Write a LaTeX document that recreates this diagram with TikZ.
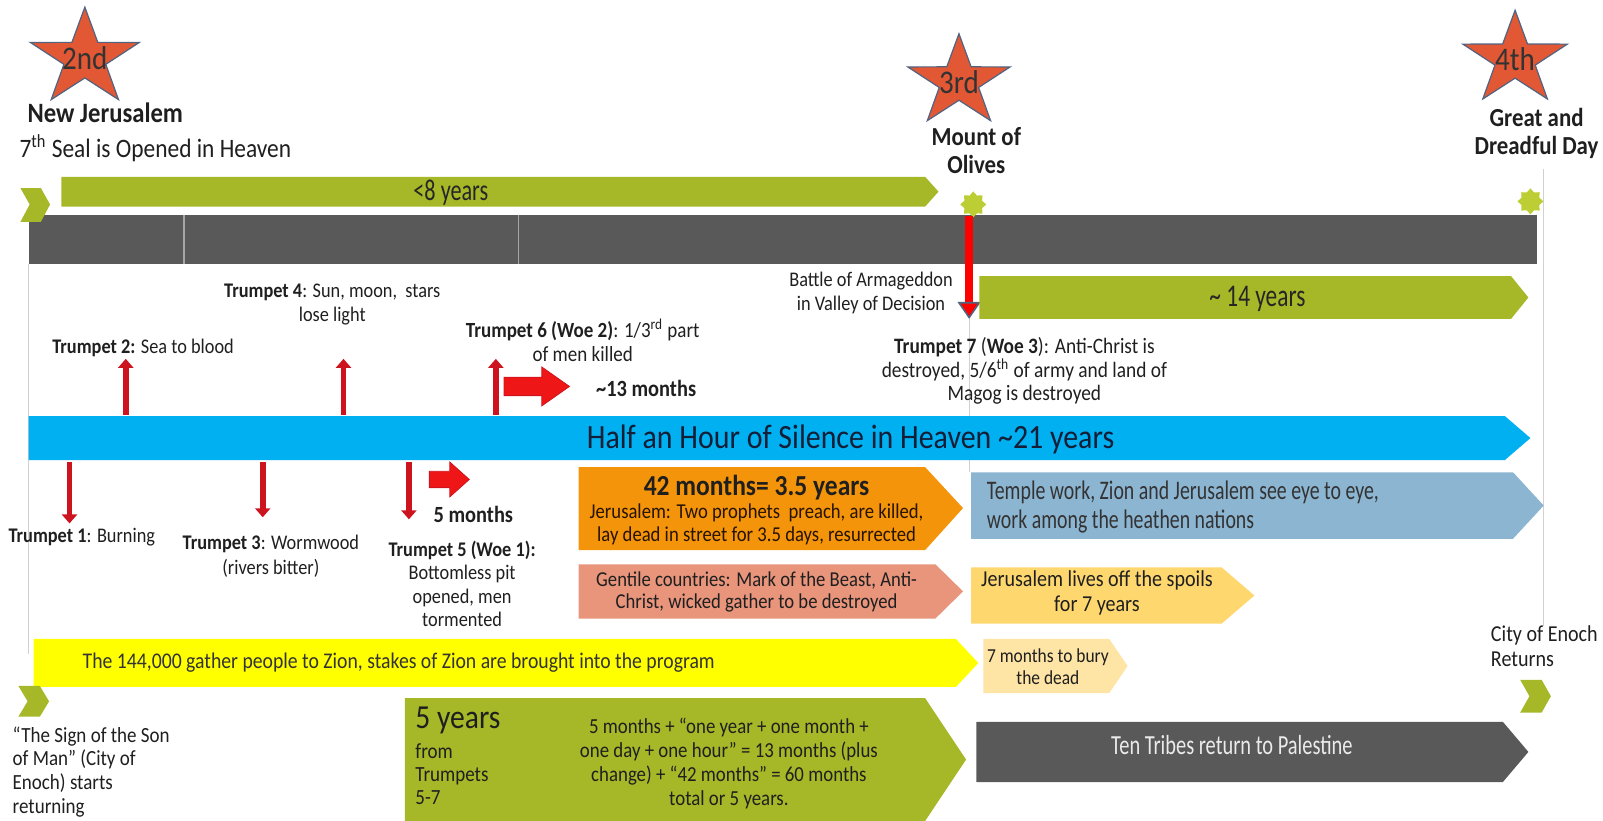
\documentclass[tikz,border=0pt]{standalone}
\usepackage{fontspec}
\setmainfont{Carlito}[FakeStretch=0.88]
\newfontfamily\condfont{Carlito}[FakeStretch=0.74]
\usetikzlibrary{shapes.geometric,arrows.meta}

\definecolor{olivebar}{RGB}{166,184,40}
\definecolor{darkbar}{RGB}{89,89,89}
\definecolor{skybar}{RGB}{0,176,240}
\definecolor{orangebox}{RGB}{244,148,10}
\definecolor{salmonbox}{RGB}{232,149,124}
\definecolor{steelbox}{RGB}{140,181,210}
\definecolor{goldbox}{RGB}{254,216,110}
\definecolor{palebox}{RGB}{254,228,165}
\definecolor{lemonbar}{RGB}{255,255,0}
\definecolor{starred}{RGB}{226,88,52}
\definecolor{starline}{RGB}{80,100,130}
\definecolor{burstgreen}{RGB}{188,206,52}
\definecolor{trumpred}{RGB}{205,20,30}
\definecolor{blockred}{RGB}{238,22,22}
\definecolor{navytext}{RGB}{20,30,55}

\begin{document}
\begin{tikzpicture}[x=0.5111pt, y=-0.5111pt,
  lbl/.style={align=center, inner sep=0pt, text=black!88, font=\fontsize{10.4}{12}\selectfont},
  boldlbl/.style={lbl, font=\fontsize{13}{14}\selectfont\bfseries},
  bartext/.style={inner sep=0pt, text=black!85, font=\condfont\fontsize{15}{16}\selectfont},
  boxtext/.style={lbl, font=\fontsize{10.6}{11.4}\selectfont},
  guide/.style={draw=black!18, line width=0.5pt},
  trump/.style={draw=trumpred, line width=2.8pt, -{Triangle[width=7.5pt,length=4.5pt]}},
  battle/.style={draw=red, line width=4pt, -{Triangle[width=11.5pt,length=8.5pt,fill=red,color=starline,line width=0.8pt]}},
  redblock/.style={fill=blockred, draw=trumpred, line width=0.4pt},
  bigstar/.style={star, star points=5, star point ratio=2.6, fill=starred, draw=starline, line width=0.6pt, inner sep=0pt, transform shape},
  startext/.style={inner sep=0pt, text=black!80, font=\fontsize{16.5}{18}\selectfont},
  burst/.style={star, star points=8, star point ratio=1.35, fill=burstgreen, minimum size=13pt, inner sep=0pt}]
\useasboundingbox (0,0) rectangle (1568,803);

% thin guide lines
\draw[guide] (28,258) -- (28,640);
\draw[guide] (1510,165) -- (1510,612);

% stars
\foreach \nm/\lab/\cx/\cy/\rad in {s2/2nd/83/57/50, s3/3rd/938/80/47, s4/4th/1482/58/48} {
  \begin{scope}[shift={(\cx,\cy)}, xscale=1.12]
    \node[bigstar, minimum size=2*\rad*0.5111pt] (\nm) at (0,0) {};
  \end{scope}
  \node[startext] at (\nm) {\lab};
}
\node[boldlbl, font=\fontsize{14}{15}\selectfont\bfseries] (newjer) at (103,110) {New Jerusalem};
\node[lbl, font=\fontsize{13.3}{15}\selectfont] (seal) at (152,145) {7\textsuperscript{th} Seal is Opened in Heaven};
\node[boldlbl] (olives) at (955,147) {Mount of\\Olives};
\node[boldlbl] (dreadful) at (1503,131) {Great and\\Dreadful Day};

% top bars
\fill[olivebar] (60,173) -- (905,173) -- (918,187.5) -- (905,202) -- (60,202) -- cycle;
\node[bartext] (eight) at (441,188) {<8 years};
\fill[darkbar] (28,210) rectangle (1503,258);
\draw[black!35, line width=0.6pt] (180,210) -- (180,258) (507,210) -- (507,258);
\fill[olivebar] (20,184) -- (40,184) -- (49,200) -- (40,217) -- (20,217) -- (29,200) -- cycle;
\node[burst] (b3) at (952,200) {};
\node[burst] (b4) at (1497,197) {};

% battle
\coordinate (arm1) at (948,211);
\coordinate (arm2) at (948,312);
\coordinate (arm3) at (948,462);
\draw[guide] (arm2) -- (arm3);
\draw[battle] (arm1) -- (arm2);
\node[lbl] (armageddon) at (852,287) {Battle of Armageddon\\in Valley of Decision};
\fill[olivebar] (958,270) -- (1478,270) -- (1495,291) -- (1478,312) -- (958,312) -- cycle;
\node[bartext, font=\condfont\fontsize{15.8}{17}\selectfont] (fourteen) at (1230,292) {\textasciitilde{} 14 years};

% trumpets above the silence bar
\node[lbl] (t2) at (140,340) {\textbf{Trumpet 2:} Sea to blood};
\node[lbl] (t4) at (325,298) {\textbf{Trumpet 4}: Sun, moon,~ stars\\lose light};
\node[lbl, font=\fontsize{10.8}{12}\selectfont] (t6) at (570,333) {\textbf{Trumpet 6 (Woe 2)}: 1/3\textsuperscript{rd} part\\of men killed};
\node[lbl, font=\fontsize{11.6}{13}\selectfont\bfseries] (m13) at (632,380) {\textasciitilde13 months};
\node[lbl, font=\fontsize{11}{11.75}\selectfont] (t7) at (1002,363) {\textbf{Trumpet 7} (\textbf{Woe 3}): Anti-Christ is\\destroyed, 5/6\textsuperscript{th} of army and land of\\Magog is destroyed};
\foreach \n/\x in {2/123, 4/336, 6/485} {
  \coordinate (u\n a) at (\x,406);
  \coordinate (u\n b) at (\x,351);
  \draw[trump] (u\n a) -- (u\n b);
}
\fill[redblock] (493,369) -- (530,369) -- (530,359) -- (557,378) -- (530,397) -- (530,387) -- (493,387) -- cycle;

% silence bar
\fill[skybar] (28,407) -- (1472,407) -- (1497,428.5) -- (1472,450) -- (28,450) -- cycle;
\node[inner sep=0pt, text=navytext, font=\fontsize{17}{19}\selectfont] (silence) at (832,430) {Half an Hour of Silence in Heaven \textasciitilde21 years};

% trumpets below the silence bar
\foreach \n/\x/\y in {1/68/512, 3/257/506, 5/400/508} {
  \coordinate (d\n a) at (\x,452);
  \coordinate (d\n b) at (\x,\y);
  \draw[trump] (d\n a) -- (d\n b);
}
\fill[redblock] (420,461) -- (440,461) -- (440,452) -- (459,469) -- (440,486) -- (440,477) -- (420,477) -- cycle;
\node[lbl, font=\fontsize{11.6}{13}\selectfont\bfseries] (m5) at (463,503) {5 months};
\node[lbl] (t1) at (80,525) {\textbf{Trumpet 1}: Burning};
\node[lbl, font=\fontsize{10.4}{12.3}\selectfont] (t3) at (265,544) {\textbf{Trumpet 3}: Wormwood\\(rivers bitter)};
\node[lbl, font=\fontsize{10.4}{11.75}\selectfont] (t5) at (452,571) {\textbf{Trumpet 5 (Woe 1):}\\Bottomless pit\\opened, men\\tormented};

% boxes
\fill[orangebox] (566,457) -- (905,457) -- (942,497) -- (905,538) -- (566,538) -- cycle;
\node[lbl, font=\fontsize{14.5}{16}\selectfont\bfseries] (jerhead) at (740,477) {42 months= 3.5 years};
\node[boxtext, text=black!85!orange] (jerbody) at (740,513) {Jerusalem: Two prophets~ preach, are killed,\\lay dead in street for 3.5 days, resurrected};
\fill[salmonbox] (566,552) -- (915,552) -- (942,578.5) -- (915,605) -- (566,605) -- cycle;
\node[boxtext] (gentile) at (740,579) {Gentile countries: Mark of the Beast, Anti-\\Christ, wicked gather to be destroyed};
\fill[steelbox] (950,462) -- (1480,462) -- (1510,494.5) -- (1480,527) -- (950,527) -- cycle;
\node[lbl, align=left, anchor=west, text=black!80, font=\condfont\fontsize{13.4}{14.3}\selectfont] (temple) at (965,496) {Temple work, Zion and Jerusalem see eye to eye,\\work among the heathen nations};
\fill[goldbox] (950,555) -- (1195,555) -- (1227,582.5) -- (1195,610) -- (950,610) -- cycle;
\node[lbl, font=\fontsize{11.4}{12.3}\selectfont] (spoils) at (1073,580) {Jerusalem lives off the spoils\\for 7 years};
\fill[lemonbar] (33,625) -- (935,625) -- (957,648.5) -- (935,672) -- (33,672) -- cycle;
\node[lbl, text=black!80, font=\fontsize{11.2}{13}\selectfont] (gather) at (390,648) {The 144,000 gather people to Zion, stakes of Zion are brought into the program};
\fill[palebox] (962,625) -- (1085,625) -- (1103,651.5) -- (1085,678) -- (962,678) -- cycle;
\node[lbl, font=\fontsize{9.9}{10.7}\selectfont] (bury) at (1025,652) {7 months to bury\\the dead};
\node[lbl, align=left, anchor=west, font=\fontsize{11.4}{12.8}\selectfont] (enoch) at (1458,632) {City of Enoch\\Returns};
\fill[olivebar] (1487,665) -- (1508,665) -- (1517,681) -- (1508,697) -- (1487,697) -- (1496,681) -- cycle;
\fill[olivebar] (18,671) -- (39,671) -- (48,686) -- (39,701) -- (18,701) -- (27,686) -- cycle;
\node[lbl, align=left, anchor=west, font=\fontsize{10.8}{11.9}\selectfont] (sign) at (12,755) {“The Sign of the Son\\of Man” (City of\\Enoch) starts\\returning};

% five years
\fill[olivebar] (396,683) -- (905,683) -- (945,743) -- (905,803) -- (396,803) -- cycle;
\node[lbl, anchor=west, font=\fontsize{16.8}{18}\selectfont] (five) at (406,705) {5 years};
\node[lbl, align=left, anchor=west, font=\fontsize{10.8}{11.5}\selectfont] (from) at (406,757) {from\\Trumpets\\5-7};
\node[lbl, font=\fontsize{10.7}{11.9}\selectfont] (sum) at (713,747) {5 months + “one year + one month +\\one day + one hour” = 13 months (plus\\change) + “42 months” = 60 months\\total or 5 years.};
\fill[darkbar] (955,706) -- (1470,706) -- (1495,735.5) -- (1470,765) -- (955,765) -- cycle;
\node[lbl, text=black!8, font=\condfont\fontsize{13.8}{15}\selectfont] (tribes) at (1205,729) {Ten Tribes return to Palestine};
\end{tikzpicture}
\end{document}
